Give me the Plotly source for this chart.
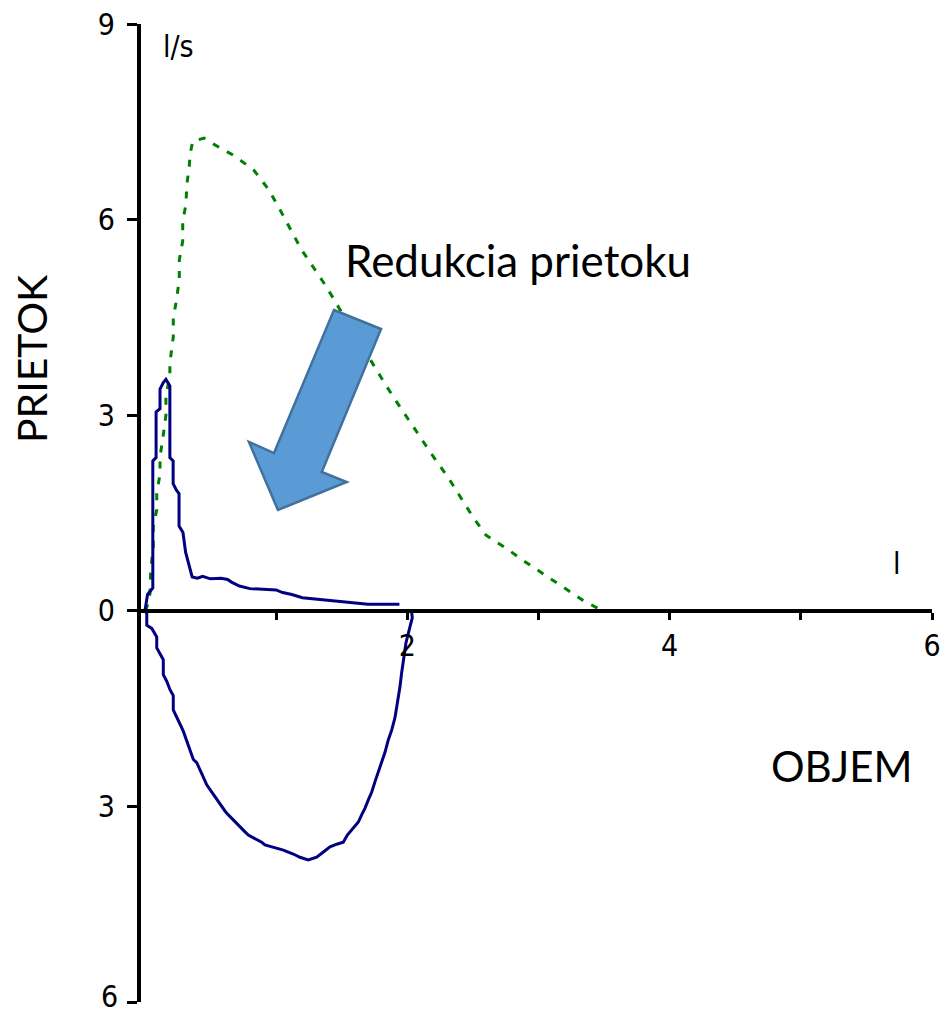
import plotly.graph_objects as go

# Patient flow-volume loop: expiratory limb (volume in l, flow in l/s)
exp_volume = [0.0, 0.01, 0.02, 0.06, 0.06, 0.085, 0.085, 0.115, 0.115, 0.14, 0.16, 0.19,
              0.19, 0.19, 0.215, 0.215, 0.24, 0.26, 0.26, 0.29, 0.31, 0.34, 0.36, 0.40,
              0.44, 0.50, 0.58, 0.63, 0.66, 0.72, 0.80, 0.90, 1.00, 1.05, 1.12, 1.20,
              1.30, 1.40, 1.50, 1.60, 1.70, 1.80, 1.94]
exp_flow = [0.0, 0.10, 0.25, 0.35, 2.30, 2.35, 3.05, 3.10, 3.40, 3.50, 3.55, 3.45,
            3.05, 2.35, 2.30, 1.95, 1.85, 1.80, 1.30, 1.20, 0.90, 0.65, 0.52, 0.50,
            0.53, 0.49, 0.50, 0.48, 0.44, 0.38, 0.34, 0.33, 0.32, 0.28, 0.25, 0.20,
            0.18, 0.16, 0.13, 0.12, 0.10, 0.10, 0.10]

# Inspiratory limb (drawn below the volume axis)
insp_volume = [0.0, 0.014, 0.014, 0.052, 0.09, 0.09, 0.115, 0.14, 0.14, 0.166, 0.191, 0.216,
               0.216, 0.242, 0.268, 0.293, 0.319, 0.344, 0.369, 0.395, 0.42, 0.445, 0.471,
               0.509, 0.547, 0.585, 0.61, 0.636, 0.662, 0.687, 0.712, 0.738, 0.763, 0.788,
               0.839, 0.89, 0.915, 0.966, 1.055, 1.131, 1.182, 1.245, 1.309, 1.36, 1.411,
               1.462, 1.512, 1.543, 1.576, 1.601, 1.627, 1.652, 1.677, 1.703, 1.729, 1.754,
               1.779, 1.805, 1.83, 1.855, 1.881, 1.906, 1.931, 1.944, 1.957, 1.975, 1.99,
               2.015, 2.038, 2.034]
insp_flow = [0.0, -0.04, -0.22, -0.27, -0.40, -0.57, -0.66, -0.75, -0.98, -1.08, -1.21, -1.30,
             -1.52, -1.62, -1.74, -1.85, -2.00, -2.15, -2.28, -2.33, -2.43, -2.55, -2.67,
             -2.78, -2.90, -3.00, -3.07, -3.13, -3.18, -3.24, -3.28, -3.33, -3.39, -3.44,
             -3.49, -3.55, -3.59, -3.62, -3.67, -3.73, -3.78, -3.82, -3.78, -3.70, -3.62,
             -3.58, -3.55, -3.44, -3.36, -3.31, -3.24, -3.13, -3.03, -2.90, -2.78, -2.62,
             -2.47, -2.32, -2.17, -1.98, -1.83, -1.64, -1.37, -1.17, -0.95, -0.70, -0.49,
             -0.29, -0.11, -0.03]

# Predicted (normal) expiratory curve
pred_volume = [0.0, 0.014, 0.039, 0.044, 0.064, 0.064, 0.09, 0.09, 0.115, 0.115, 0.14, 0.16,
               0.16, 0.19, 0.19, 0.216, 0.216, 0.242, 0.262, 0.262, 0.288, 0.288, 0.313,
               0.319, 0.338, 0.344, 0.364, 0.45, 0.53, 0.68, 0.83, 0.94, 1.03, 1.11, 1.19,
               1.29, 1.38, 1.46, 1.73, 1.83, 1.92, 2.02, 2.12, 2.20, 2.31, 2.41, 2.50,
               2.60, 2.76, 2.90, 3.04, 3.19, 3.34, 3.46]
pred_flow = [0.0, 0.05, 0.27, 0.63, 0.97, 1.29, 1.55, 1.80, 2.10, 2.36, 2.70, 3.00,
             3.30, 3.60, 3.80, 4.20, 4.49, 4.78, 5.10, 5.38, 5.67, 5.97, 6.24,
             6.53, 6.82, 7.00, 7.20, 7.25, 7.15, 6.98, 6.76, 6.47, 6.15, 5.86, 5.55,
             5.25, 4.98, 4.71, 3.80, 3.48, 3.20, 2.90, 2.62, 2.36, 2.05, 1.74, 1.44,
             1.16, 0.95, 0.75, 0.56, 0.36, 0.16, 0.03]

# Axis ticks (the lowest flow label is placed separately so it stays inside the page)
x_tick_vals = [1, 2, 3, 4, 5, 6]
x_tick_text = ["", "2", "", "4", "", "6"]
y_tick_vals = [9, 6, 3, 0, -3, -6]
y_tick_text = ["9", "6", "3", "0", "3", ""]
y_bottom_label = "6"

# Block arrow outline (volume, flow)
arrow_vol = [1.441, 1.800, 1.348, 1.538, 1.014, 0.793, 0.984]
arrow_flow = [4.613, 4.322, 2.129, 1.975, 1.546, 2.589, 2.420]

TICK_FONT = "Liberation Sans Narrow, DejaVu Sans Condensed, Arial Narrow, sans-serif"
TEXT_FONT = "Lato, Open Sans, sans-serif"

fig = go.Figure()

fig.add_trace(go.Scatter(
    x=pred_volume, y=pred_flow, mode="lines",
    line=dict(color="#008000", width=3, dash="7px,9px"),
    hoverinfo="skip", showlegend=False))

fig.add_trace(go.Scatter(
    x=exp_volume, y=exp_flow, mode="lines",
    line=dict(color="#000080", width=3),
    hoverinfo="skip", showlegend=False))

fig.add_trace(go.Scatter(
    x=insp_volume, y=insp_flow, mode="lines",
    line=dict(color="#000080", width=3),
    hoverinfo="skip", showlegend=False))

arrow_path = "M " + " L ".join(f"{v},{f}" for v, f in zip(arrow_vol, arrow_flow)) + " Z"
fig.add_shape(type="path", path=arrow_path, xref="x", yref="y",
              fillcolor="#5B9BD5", line=dict(color="#41719C", width=2.5), layer="above")

fig.update_layout(
    width=949, height=1017,
    margin=dict(l=141, r=17, t=24, b=15, autoexpand=False),
    paper_bgcolor="white", plot_bgcolor="white",
    xaxis=dict(
        range=[-0.03, 6], anchor="free", position=0.4, automargin=False,
        showgrid=False, zeroline=False,
        showline=True, linecolor="black", linewidth=4,
        tickmode="array", tickvals=x_tick_vals, ticktext=x_tick_text,
        ticks="outside", ticklen=7, tickwidth=3, tickcolor="black",
        tickfont=dict(family=TICK_FONT, size=30, color="black"),
    ),
    yaxis=dict(
        range=[-6, 9], automargin=False,
        showgrid=False, zeroline=False,
        showline=True, linecolor="black", linewidth=4,
        tickmode="array", tickvals=y_tick_vals, ticktext=y_tick_text,
        ticks="outside", ticklen=10, tickwidth=3, tickcolor="black",
        ticklabelstandoff=6,
        tickfont=dict(family=TICK_FONT, size=30, color="black"),
    ),
)

annotations = [
    dict(text="Redukcia prietoku", x=0.4766, y=0.7586, font=dict(family=TEXT_FONT, size=44, color="black")),
    dict(text="PRIETOK", x=-0.139, y=0.6574, textangle=-90, font=dict(family=TEXT_FONT, size=41, color="black")),
    dict(text="OBJEM", x=0.8857, y=0.2413, font=dict(family=TEXT_FONT, size=42, color="black")),
    dict(text="l/s", x=0.0468, y=0.9774, font=dict(family=TICK_FONT, size=30, color="black")),
    dict(text="l", x=0.9555, y=0.4488, font=dict(family=TICK_FONT, size=30, color="black")),
]
for a in annotations:
    fig.add_annotation(xref="paper", yref="paper", showarrow=False,
                       xanchor="center", yanchor="middle", **a)

# Lowest flow tick label, right-aligned next to its tick
fig.add_annotation(text=y_bottom_label, xref="paper", yref="paper",
                   x=-0.0265, y=-0.0143, xanchor="right", yanchor="bottom",
                   showarrow=False, font=dict(family=TICK_FONT, size=30, color="black"))

fig.write_html("out.html")
